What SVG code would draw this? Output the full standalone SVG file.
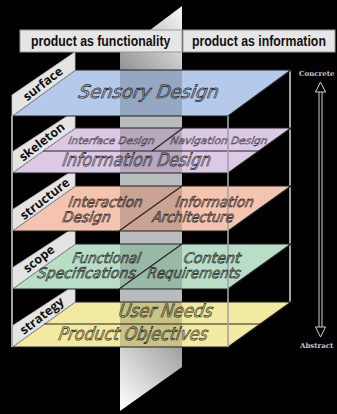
<svg xmlns="http://www.w3.org/2000/svg" width="337" height="414" viewBox="0 0 337 414">
<style>
.bg{fill:#000}
.frame{stroke:#a3a3a3;stroke-width:2;fill:none}
.layer{stroke:#222;stroke-width:1.2}
.div{stroke:#222;stroke-width:1.2;fill:none}
.panel{fill:#e4e4e4;stroke:#bdbdbd;stroke-width:0.8}
.plabel{font-family:"Open Sans","DejaVu Sans",sans-serif;font-weight:700;font-size:12.5px;fill:#111;text-anchor:middle}
.lt{font-family:"DejaVu Sans",sans-serif;font-style:italic;fill:rgba(0,0,0,0.08);stroke:#1a1a1a;stroke-width:0.65}
.lts{font-family:"DejaVu Sans",sans-serif;font-style:italic;fill:rgba(0,0,0,0.12);stroke:#333;stroke-width:0.45}
.head{fill:#e6e6e6;stroke:#9a9a9a;stroke-width:1}
.htxt{font-family:"Liberation Sans",Arial,sans-serif;font-weight:700;font-size:12.3px;fill:#111}
.axis{stroke:#cfcfcf;stroke-width:1;fill:none}
.axtxt{font-family:"DejaVu Serif",serif;font-weight:700;font-size:7px;fill:#c8c8c8}
</style>
<defs>
<linearGradient id="gTop" gradientUnits="userSpaceOnUse" x1="120" y1="66" x2="182" y2="8">
<stop offset="0" stop-color="#959595"/>
<stop offset="1" stop-color="#f7f7f7"/>
</linearGradient>
<linearGradient id="gBot" gradientUnits="userSpaceOnUse" x1="182" y1="348" x2="122" y2="405">
<stop offset="0" stop-color="#a0a0a0"/>
<stop offset="1" stop-color="#fbfbfb"/>
</linearGradient>
<clipPath id="clipLayers">
<polygon points="75,70 291,70 228,116 12,116"/>
<polygon points="75,128 291,128 228,173 12,173"/>
<polygon points="75,186 291,186 228,231 12,231"/>
<polygon points="75,244 291,244 228,289 12,289"/>
<polygon points="75,302 291,302 228,347 12,347"/>
</clipPath>
</defs>
<rect class="bg" x="0" y="0" width="337" height="414"/>

<g id="divider-plane">
<polygon points="120,52.5 182,6 182,70 120,70" fill="url(#gTop)"/>
<rect x="120" y="70" width="62" height="277" fill="#b9bcbe"/>
<polygon points="120,347 182,347 182,367 120,411" fill="url(#gBot)"/>
</g>

<g id="connectors">
<line class="frame" x1="290" y1="70" x2="290" y2="302"/>
</g>

<g id="strategy">
<polygon class="layer" points="75,302 291,302 228,347 12,347" fill="#f2eaa0"/>
<polygon class="panel" points="12,347 12,326 75,285 75,302"/>
<text class="plabel" transform="translate(42,316) rotate(-38)" x="0" y="4">strategy</text>
</g>
<g id="scope">
<polygon class="layer" points="75,244 291,244 228,289 12,289" fill="#b9dec8"/>
<polygon class="panel" points="12,289 12,268 75,227 75,244"/>
<text class="plabel" transform="translate(39,259) rotate(-38)" x="0" y="4">scope</text>
</g>
<g id="structure">
<polygon class="layer" points="75,186 291,186 228,231 12,231" fill="#f5c4b0"/>
<polygon class="panel" points="12,231 12,210 75,169 75,186"/>
<text class="plabel" transform="translate(45,199) rotate(-38)" x="0" y="4">structure</text>
</g>
<g id="skeleton">
<polygon class="layer" points="75,128 291,128 228,173 12,173" fill="#dcc9e6"/>
<polygon class="panel" points="12,173 12,152 75,111 75,128"/>
<text class="plabel" transform="translate(42,142) rotate(-38)" x="0" y="4">skeleton</text>
</g>
<g id="surface">
<polygon class="layer" points="75,70 291,70 228,116 12,116" fill="#b5c9ea"/>
<polygon class="panel" points="12,116 12,95 75,52 75,70"/>
<text class="plabel" transform="translate(43,84) rotate(-38)" x="0" y="4">surface</text>
</g>

<rect x="120" y="60" width="62" height="300" fill="#000" opacity="0.17" clip-path="url(#clipLayers)"/>

<g id="layer-lines">
<line class="div" x1="43" y1="151" x2="259" y2="151"/>
<line class="div" x1="152" y1="151" x2="183" y2="128"/>
<line class="div" x1="119" y1="231" x2="182" y2="186"/>
<line class="div" x1="119" y1="289" x2="182" y2="244"/>
<line class="div" x1="44" y1="324" x2="260" y2="324"/>
</g>

<g id="front-frame">
<line class="frame" x1="12" y1="116" x2="12" y2="347"/>
<line class="frame" x1="228" y1="116" x2="228" y2="347" opacity="0.8"/>
</g>

<g id="layer-texts">
<text class="lt" transform="translate(78,98) skewX(-10)" font-size="18" textLength="140" lengthAdjust="spacingAndGlyphs">Sensory Design</text>
<text class="lts" transform="translate(68,144) skewX(-10)" font-size="10" textLength="86" lengthAdjust="spacingAndGlyphs">Interface Design</text>
<text class="lts" transform="translate(170,144) skewX(-10)" font-size="10" textLength="97" lengthAdjust="spacingAndGlyphs">Navigation Design</text>
<text class="lt" transform="translate(62,166) skewX(-10)" font-size="18" textLength="148" lengthAdjust="spacingAndGlyphs">Information Design</text>
<text class="lt" transform="translate(68,207) skewX(-10)" font-size="14.5" textLength="74" lengthAdjust="spacingAndGlyphs">Interaction</text>
<text class="lt" transform="translate(62,222) skewX(-10)" font-size="14.5" textLength="48" lengthAdjust="spacingAndGlyphs">Design</text>
<text class="lt" transform="translate(175,207) skewX(-10)" font-size="14.5" textLength="78" lengthAdjust="spacingAndGlyphs">Information</text>
<text class="lt" transform="translate(152,222) skewX(-10)" font-size="14.5" textLength="81" lengthAdjust="spacingAndGlyphs">Architecture</text>
<text class="lt" transform="translate(72,263) skewX(-10)" font-size="14.5" textLength="68" lengthAdjust="spacingAndGlyphs">Functional</text>
<text class="lt" transform="translate(37,278) skewX(-10)" font-size="14.5" textLength="98" lengthAdjust="spacingAndGlyphs">Specifications</text>
<text class="lt" transform="translate(183,263) skewX(-10)" font-size="14.5" textLength="57" lengthAdjust="spacingAndGlyphs">Content</text>
<text class="lt" transform="translate(147,278) skewX(-10)" font-size="14.5" textLength="93" lengthAdjust="spacingAndGlyphs">Requirements</text>
<text class="lt" transform="translate(118,317) skewX(-10)" font-size="18" textLength="94" lengthAdjust="spacingAndGlyphs">User Needs</text>
<text class="lt" transform="translate(58,340) skewX(-10)" font-size="18" textLength="149" lengthAdjust="spacingAndGlyphs">Product Objectives</text>
</g>

<g id="header-functionality">
<rect class="head" x="20" y="30" width="162" height="22"/>
<text class="htxt" transform="translate(31,46) scale(1,1.15)">product as functionality</text>
</g>
<g id="header-information">
<rect class="head" x="183" y="30" width="152" height="22"/>
<text class="htxt" transform="translate(192,46) scale(1,1.15)">product as information</text>
</g>

<g id="axis">
<line class="axis" x1="319" y1="92" x2="319" y2="327"/>
<line class="axis" x1="322" y1="92" x2="322" y2="327"/>
<polygon class="axis" points="320.5,82 315.5,92 325.5,92"/>
<polygon class="axis" points="320.5,337 315.5,327 325.5,327"/>
<text class="axtxt" x="299" y="76">Concrete</text>
<text class="axtxt" x="300" y="348">Abstract</text>
</g>
</svg>
